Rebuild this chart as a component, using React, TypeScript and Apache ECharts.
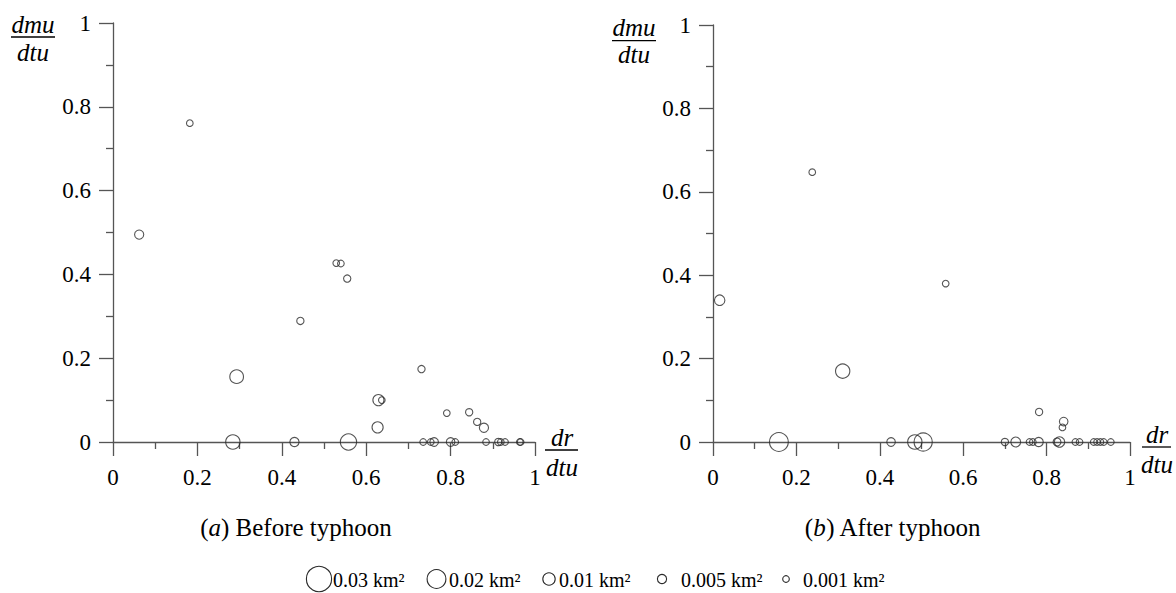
import React, { useEffect, useRef } from "react";
import * as echarts from "echarts";

const FONT = "Liberation Serif, Times New Roman, serif";

// Panel (a) Before typhoon: dr/dtu (x), dmu/dtu (y), patch area in km² (size)
const beforeX = [0.062, 0.182, 0.293, 0.284, 0.43, 0.558, 0.444, 0.529, 0.54, 0.555, 0.629, 0.637, 0.627, 0.731, 0.791, 0.844, 0.863, 0.879,
  0.735, 0.753, 0.761, 0.8, 0.811, 0.884, 0.913, 0.919, 0.929, 0.964, 0.966];
const beforeY = [0.495, 0.761, 0.156, 0, 0, 0, 0.289, 0.427, 0.426, 0.39, 0.1, 0.1, 0.035, 0.174, 0.069, 0.071, 0.048, 0.034,
  0, 0, 0, 0, 0, 0, 0, 0, 0, 0, 0];
const beforeArea = [0.005, 0.001, 0.012, 0.013, 0.005, 0.016, 0.002, 0.001, 0.001, 0.002, 0.008, 0.001, 0.008, 0.002, 0.001, 0.002, 0.002, 0.005,
  0.001, 0.001, 0.004, 0.004, 0.001, 0.001, 0.002, 0.001, 0.001, 0.001, 0.001];

// Panel (b) After typhoon
const afterX = [0.016, 0.238, 0.558, 0.311, 0.782, 0.841, 0.838,
  0.158, 0.427, 0.484, 0.504, 0.7, 0.726, 0.759, 0.767, 0.781, 0.825, 0.831, 0.869, 0.879, 0.913, 0.921, 0.929, 0.937, 0.954];
const afterY = [0.34, 0.647, 0.38, 0.17, 0.072, 0.049, 0.035,
  0, 0, 0, 0, 0, 0, 0, 0, 0, 0, 0, 0, 0, 0, 0, 0, 0, 0];
const afterArea = [0.007, 0.001, 0.001, 0.013, 0.002, 0.004, 0.001,
  0.02, 0.004, 0.013, 0.019, 0.002, 0.006, 0.001, 0.001, 0.005, 0.003, 0.007, 0.001, 0.001, 0.001, 0.001, 0.001, 0.001, 0.001];

const tickValues = [0, 0.2, 0.4, 0.6, 0.8, 1];
const tickLabels = ["0", "0.2", "0.4", "0.6", "0.8", "1"];

const legendAreas = [0.03, 0.02, 0.01, 0.005, 0.001];
const legendLabels = ["0.03 km²", "0.02 km²", "0.01 km²", "0.005 km²", "0.001 km²"];

const captions = ["Before typhoon", "After typhoon"];
const captionLetters = ["a", "b"];

const sizeFor = (area: number) => 2 * (3 + 320 * area);

const AXIS_COLOR = "#555";

function labelFor(v: number) {
  const i = tickValues.findIndex((t) => Math.abs(t - v) < 1e-6);
  return i >= 0 ? tickLabels[i] : "";
}

function makeAxis(type: "x" | "y", gridIndex: number) {
  return {
    type: "value",
    gridIndex,
    min: 0,
    max: 1,
    interval: 0.2,
    axisLine: { show: true, onZero: false, lineStyle: { color: AXIS_COLOR, width: 1.3 } },
    axisTick: { show: true, length: 14, lineStyle: { color: AXIS_COLOR, width: 1.3 } },
    minorTick: { show: true, splitNumber: 2, length: 7, lineStyle: { color: AXIS_COLOR, width: 1.3 } },
    splitLine: { show: false },
    minorSplitLine: { show: false },
    axisLabel: {
      color: "#000",
      fontFamily: FONT,
      fontSize: 23,
      margin: type === "x" ? 24 : 22,
      formatter: (v: number) => labelFor(v),
    },
  };
}

function fraction(cx: number, top: string, lineY: number, bottom: string, topY: number, bottomY: number, x1: number, x2: number) {
  return [
    {
      type: "text",
      x: cx,
      y: topY,
      style: { text: top, fontFamily: FONT, fontStyle: "italic", fontSize: 25, fill: "#000", align: "center", verticalAlign: "middle" },
    },
    {
      type: "line",
      shape: { x1, y1: lineY, x2, y2: lineY },
      style: { stroke: "#000", lineWidth: 1.3 },
    },
    {
      type: "text",
      x: cx,
      y: bottomY,
      style: { text: bottom, fontFamily: FONT, fontStyle: "italic", fontSize: 25, fill: "#000", align: "center", verticalAlign: "middle" },
    },
  ];
}

export default function App() {
  const ref = useRef<HTMLDivElement>(null);

  useEffect(() => {
    if (!ref.current) return;
    const chart = echarts.init(ref.current, undefined, { renderer: "svg" });

    const beforeData = beforeX.map((x, i) => [x, beforeY[i], beforeArea[i]]);
    const afterData = afterX.map((x, i) => [x, afterY[i], afterArea[i]]);

    const scatterStyle = {
      type: "scatter",
      symbol: "circle",
      clip: false,
      symbolSize: (val: number[]) => sizeFor(val[2]),
      itemStyle: { color: "rgba(0,0,0,0)", borderColor: "#2a2a2a", borderWidth: 1.1 },
      emphasis: { disabled: true },
    };

    // legend graphic
    const legendCx = [319, 436.5, 549, 662, 786];
    const legendTx = [333, 449, 559, 681, 803];
    const legendGraphics: any[] = [];
    legendAreas.forEach((a, i) => {
      legendGraphics.push({
        type: "circle",
        shape: { cx: legendCx[i], cy: 579, r: sizeFor(a) / 2 },
        style: { fill: "none", stroke: "#2a2a2a", lineWidth: 1.1 },
      });
      legendGraphics.push({
        type: "text",
        x: legendTx[i],
        y: 580,
        style: { text: legendLabels[i], fontFamily: FONT, fontSize: 20, fill: "#000", align: "left", verticalAlign: "middle" },
      });
    });

    const captionGraphics = [296, 893].map((cx, i) => ({
      type: "text",
      x: cx,
      y: 527,
      style: {
        text: `{p|(}{i|${captionLetters[i]}}{p|) ${captions[i]}}`,
        align: "center",
        verticalAlign: "middle",
        rich: {
          p: { fontFamily: FONT, fontSize: 25, color: "#000" },
          i: { fontFamily: FONT, fontSize: 25, fontStyle: "italic", color: "#000" },
        },
      },
    }));

    chart.setOption({
      animation: false,
      backgroundColor: "#fff",
      grid: [
        { left: 113, top: 23, width: 422, height: 419 },
        { left: 713, top: 25, width: 417, height: 417 },
      ],
      xAxis: [makeAxis("x", 0), makeAxis("x", 1)],
      yAxis: [makeAxis("y", 0), makeAxis("y", 1)],
      series: [
        { ...scatterStyle, name: "Before typhoon", xAxisIndex: 0, yAxisIndex: 0, data: beforeData },
        { ...scatterStyle, name: "After typhoon", xAxisIndex: 1, yAxisIndex: 1, data: afterData },
      ],
      graphic: [
        ...fraction(33, "dmu", 37, "dtu", 24, 52, 11, 55),
        ...fraction(634, "dmu", 40.7, "dtu", 27, 54, 612, 656),
        ...fraction(562, "dr", 450, "dtu", 437, 467, 545, 578),
        ...fraction(1157, "dr", 447, "dtu", 434, 464, 1142, 1171),
        ...captionGraphics,
        ...legendGraphics,
      ],
    });

    return () => chart.dispose();
  }, []);

  return (
    <div
      ref={ref}
      style={{ position: "fixed", left: 0, top: 0, width: 1176, height: 593, background: "#fff" }}
    />
  );
}
